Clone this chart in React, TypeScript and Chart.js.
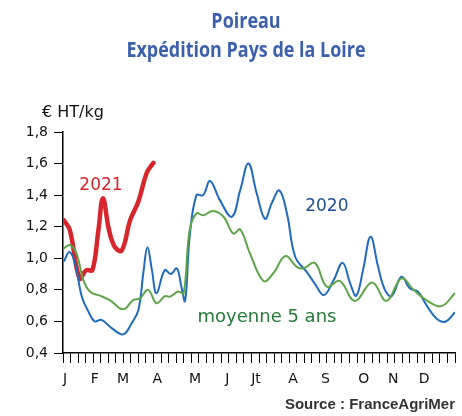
import React, { useEffect, useRef } from "react";
import { Chart, registerables } from "chart.js";

Chart.register(...registerables);

// ---- Text ----
const titleLines = ["Poireau", "Expédition Pays de la Loire"];
const unitLabel = "€ HT/kg";
const sourceLabel = "Source : FranceAgriMer";

// ---- Axes ----
const weekTicks = [
  0, 1, 2, 3, 4, 5, 6, 7, 8, 9, 10, 11, 12, 13, 14, 15, 16, 17, 18, 19, 20, 21, 22, 23, 24, 25, 26,
  27, 28, 29, 30, 31, 32, 33, 34, 35, 36, 37, 38, 39, 40, 41, 42, 43, 44, 45, 46, 47, 48, 49, 50, 51, 52,
];
const monthLabels = ["J", "F", "M", "A", "M", "J", "Jt", "A", "S", "O", "N", "D"];
const monthWeeks = [0.27, 4.2, 7.95, 12.5, 17.5, 21.8, 25.6, 30.5, 34.8, 39.9, 43.8, 47.9];
const yTicks = [0.4, 0.5, 0.6, 0.7, 0.8, 0.9, 1.0, 1.1, 1.2, 1.3, 1.4, 1.5, 1.6, 1.7, 1.8];

// ---- Series: 2021 ----
const weeks2021 = [0.13, 0.9, 2.2, 3.1, 3.9, 4.7, 5.3, 6.1, 6.9, 7.8, 8.9, 10.0, 11.1, 12.0];
const prix2021 = [1.24, 1.18, 0.873, 0.925, 0.925, 1.18, 1.38, 1.18, 1.07, 1.05, 1.24, 1.36, 1.54, 1.605];

// ---- Series: 2020 ----
const weeks2020 = [
  0.13, 0.84, 1.6, 2.5, 3.4, 4.2, 5.1, 6.5, 8.0, 9.1, 10.0, 10.7, 11.2, 11.8, 12.4, 13.5, 14.3, 15.1,
  15.7, 16.2, 16.8, 17.7, 18.6, 19.5, 20.8, 22.4, 23.5, 24.6, 25.7, 26.8, 27.7, 28.7, 29.7, 30.8, 32.3,
  33.4, 34.6, 35.9, 37.1, 38.1, 38.9, 39.8, 40.8, 41.8, 42.7, 43.6, 44.9, 46.0, 47.1, 48.2, 49.6, 50.7, 52.0,
];
const prix2020 = [
  0.98, 1.04, 0.967, 0.756, 0.66, 0.6, 0.61, 0.556, 0.518, 0.588, 0.672, 0.925, 1.07, 0.925, 0.778, 0.925,
  0.9, 0.936, 0.82, 0.73, 1.136, 1.4, 1.4, 1.49, 1.37, 1.263, 1.43, 1.6, 1.41, 1.25, 1.35, 1.43, 1.285,
  1.01, 0.915, 0.84, 0.767, 0.862, 0.971, 0.84, 0.763, 0.925, 1.136, 0.946, 0.8, 0.76, 0.883, 0.81, 0.788,
  0.704, 0.615, 0.598, 0.658,
];

// ---- Series: moyenne 5 ans ----
const weeksMoy = [
  0.13, 0.9, 1.8, 2.7, 3.6, 4.9, 6.2, 8.0, 9.3, 10.2, 11.3, 12.4, 13.5, 14.2, 15.3, 16.0, 16.8, 17.7,
  18.6, 19.9, 21.3, 22.6, 23.5, 24.8, 26.6, 27.9, 29.5, 31.0, 31.9, 33.4, 35.0, 36.7, 38.7, 41.0, 42.9,
  44.9, 46.5, 48.2, 50.2, 52.0,
];
const prixMoy = [
  1.063, 1.084, 1.03, 0.862, 0.788, 0.763, 0.735, 0.677, 0.735, 0.746, 0.8, 0.715, 0.76, 0.757, 0.79,
  0.778, 1.18, 1.284, 1.273, 1.3, 1.263, 1.157, 1.183, 1.031, 0.856, 0.905, 1.014, 0.946, 0.936, 0.971,
  0.82, 0.857, 0.73, 0.847, 0.73, 0.873, 0.8, 0.735, 0.697, 0.78,
];

// ---- Series label anchors (data coordinates) ----
const seriesLabels = [
  { text: "2021", week: 5.04, value: 1.463, color: "#d6262c", size: 17 },
  { text: "2020", week: 35.0, value: 1.327, color: "#224f93", size: 17 },
  { text: "moyenne 5 ans", week: 27.06, value: 0.628, color: "#267a3a", size: 18 },
];

const RED = "#d7272d";
const BLUE = "#1f6bbd";
const GREEN = "#5da548";
const TITLE = "#3b61ad";
const FONT = "'DejaVu Sans', Verdana, sans-serif";

const toPoints = (xs: number[], ys: number[]) => xs.map((x, i) => ({ x, y: ys[i] }));

const textPlugin = {
  id: "texts",
  afterDraw(chart: any) {
    const { ctx, scales } = chart;
    ctx.save();
    ctx.textAlign = "center";
    ctx.textBaseline = "middle";
    ctx.fillStyle = TITLE;
    ctx.font = "bold 21px 'Open Sans', sans-serif";
    const titleY = [22, 51];
    titleLines.forEach((t, i) => {
      ctx.save();
      ctx.translate(246, titleY[i]);
      ctx.scale(0.855, 1);
      ctx.fillText(t, 0, 0);
      ctx.restore();
    });

    ctx.fillStyle = "#111";
    ctx.textAlign = "left";
    ctx.font = `16px ${FONT}`;
    ctx.fillText(unitLabel, 42, 113);

    ctx.textAlign = "right";
    ctx.fillStyle = "#333";
    ctx.font = "bold 15px 'Liberation Sans', Arial, sans-serif";
    ctx.fillText(sourceLabel, 455, 405);

    ctx.textAlign = "center";
    for (const l of seriesLabels) {
      ctx.fillStyle = l.color;
      ctx.font = `${l.size}px ${FONT}`;
      ctx.fillText(l.text, scales.x.getPixelForValue(l.week), scales.y.getPixelForValue(l.value));
    }
    ctx.restore();
  },
};

export default function App() {
  const ref = useRef<HTMLCanvasElement>(null);
  useEffect(() => {
    if (!ref.current) return;
    const chart = new Chart(ref.current, {
      type: "line",
      data: {
        datasets: [
          {
            label: "moyenne 5 ans",
            data: toPoints(weeksMoy, prixMoy),
            borderColor: GREEN,
            borderWidth: 2,
            pointRadius: 0,
            tension: 0.4,
          },
          {
            label: "2020",
            data: toPoints(weeks2020, prix2020),
            borderColor: BLUE,
            borderWidth: 2,
            pointRadius: 0,
            tension: 0.4,
          },
          {
            label: "2021",
            data: toPoints(weeks2021, prix2021),
            borderColor: RED,
            borderWidth: 4.5,
            pointRadius: 0,
            tension: 0.4,
            borderCapStyle: "round",
          },
        ],
      },
      options: {
        responsive: false,
        animation: false,
        devicePixelRatio: 1,
        layout: { padding: { top: 132, left: 0, right: 7, bottom: 28 } },
        plugins: { legend: { display: false }, tooltip: { enabled: false }, title: { display: false } },
        scales: {
          x: {
            type: "linear",
            position: "bottom",
            weight: 0,
            min: 0,
            max: 52,
            afterBuildTicks: (s: any) => {
              s.ticks = weekTicks.map((v) => ({ value: v }));
            },
            ticks: { display: false },
            grid: { drawOnChartArea: false, drawTicks: true, tickLength: 10, color: "#000", lineWidth: 1 },
            border: { color: "#000", width: 1.5 },
            afterFit: (s: any) => {
              s.height = 10;
            },
          },
          xm: {
            type: "linear",
            position: "bottom",
            weight: 1,
            min: 0,
            max: 52,
            afterBuildTicks: (s: any) => {
              s.ticks = monthWeeks.map((v) => ({ value: v }));
            },
            ticks: {
              autoSkip: false,
              maxRotation: 0,
              padding: 8,
              color: "#111",
              font: { family: FONT, size: 14 },
              callback: (_v: any, i: number) => monthLabels[i],
            },
            grid: { display: false, drawTicks: false },
            border: { display: false },
            afterFit: (s: any) => {
              s.height = 25;
            },
          },
          y: {
            min: 0.4,
            max: 1.8,
            afterBuildTicks: (s: any) => {
              s.ticks = yTicks.map((v) => ({ value: v }));
            },
            ticks: {
              padding: 6,
              color: "#111",
              font: { family: FONT, size: 14 },
              callback: (v: any) => {
                const k = Math.round(Number(v) * 10);
                return k % 2 === 0 ? (k / 10).toFixed(1).replace(".", ",") : "";
              },
            },
            grid: { drawOnChartArea: false, drawTicks: true, tickLength: 9, color: "#000", lineWidth: 1 },
            border: { color: "#000", width: 1.5 },
            afterFit: (s: any) => {
              s.width = 63;
            },
          },
        },
      },
      plugins: [textPlugin],
    });
    return () => chart.destroy();
  }, []);
  return (
    <div style={{ position: "absolute", left: 0, top: 0, width: 462, height: 416, background: "#fff" }}>
      <canvas ref={ref} width={462} height={416} />
    </div>
  );
}
